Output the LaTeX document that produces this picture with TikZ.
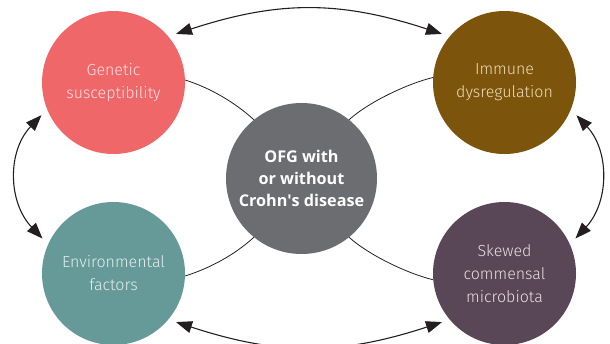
\documentclass[tikz,border=0pt]{standalone}
\usepackage{fontspec}
\setmainfont{Fira Sans}
\newfontfamily\lightfont{Fira Sans Light}
\newfontfamily\hubfont{Open Sans}
\usetikzlibrary{arrows.meta}
\definecolor{pinkc}{HTML}{F0676A}
\definecolor{pinkt}{HTML}{FDE2E2}
\definecolor{brownc}{HTML}{7C540B}
\definecolor{brownt}{HTML}{EEDDBB}
\definecolor{tealc}{HTML}{669A98}
\definecolor{tealt}{HTML}{E2EEED}
\definecolor{purplec}{HTML}{594656}
\definecolor{purplet}{HTML}{EADFE7}
\definecolor{grayc}{HTML}{6C6D71}
\definecolor{linec}{HTML}{231F20}
\begin{document}
\begin{tikzpicture}[x=1pt,y=-1pt,
  outer/.style={circle, minimum size=143pt, inner sep=0pt, align=center,
    font=\lightfont\fontsize{16}{23}\selectfont},
  hubnode/.style={circle, minimum size=151pt, inner sep=0pt, align=center, fill=grayc, text=white,
    font=\hubfont\bfseries\fontsize{16.2}{22}\selectfont},
  link/.style={draw=linec, line width=0.8pt},
  dbl/.style={draw=linec, line width=1.1pt,
    {Triangle[length=16pt,width=12pt]}-{Triangle[length=16pt,width=12pt]},
    shorten <=8pt, shorten >=8pt}]
\useasboundingbox (0,0) rectangle (610,343);
\node[outer, fill=pinkc, text=pinkt] (gen) at (113.5,82.5) {Genetic\\susceptibility};
\node[outer, fill=brownc, text=brownt] (imm) at (504.5,82.5) {Immune\\dysregulation};
\node[outer, fill=tealc, text=tealt] (env) at (113.5,273.5) {Environmental\\factors};
\node[outer, fill=purplec, text=purplet] (mic) at (504.5,273.5) {Skewed\\commensal\\microbiota};
\node[hubnode] (hub) at (301.5,178.5) {OFG with\\or without\\Crohn\textquotesingle s disease};
% links to hub
\draw[link] (gen.2) .. controls +(25,8) and +(-20,-18) .. (hub.129);
\draw[link] (imm.176) .. controls +(-25,6) and +(20,-18) .. (hub.51);
\draw[link] (env.-2) .. controls +(25,-8) and +(-20,18) .. (hub.-129);
\draw[link] (mic.185) .. controls +(-25,-6) and +(20,18) .. (hub.-51);
% double arrows
\draw[dbl] (gen.40) .. controls +(110,-36) and +(-110,-36) .. (imm.140);
\draw[dbl] (env.-40) .. controls +(110,36) and +(-110,36) .. (mic.-140);
\draw[dbl] (gen.202) .. controls +(-40,42) and +(-40,-42) .. (env.156);
\draw[dbl] (imm.-22) .. controls +(39,42) and +(39,-42) .. (mic.24);
\end{tikzpicture}
\end{document}
